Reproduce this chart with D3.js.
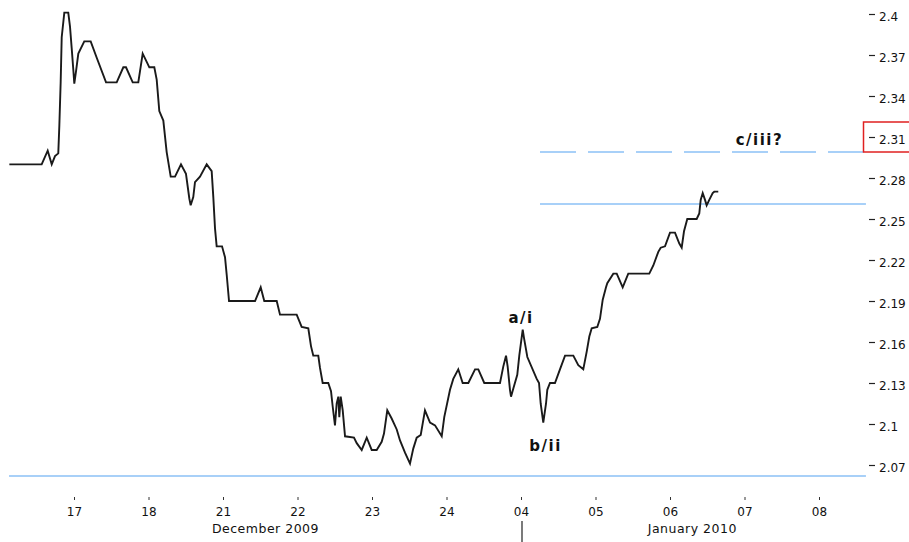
<!DOCTYPE html>
<html>
<head>
<meta charset="utf-8">
<script src="https://cdn.jsdelivr.net/npm/d3@7"></script>
<style>
  html, body { margin: 0; padding: 0; background: #fff; }
  svg { display: block; }
  .tick text { font-family: "DejaVu Sans", Verdana, sans-serif; }
</style>
</head>
<body>
<svg id="chart" width="909" height="542"></svg>
<script>
// ---- Data ----
// x positions in trading days from 17 Dec 2009 (tick index), y = price
const dayLabels = ["17", "18", "21", "22", "23", "24", "04", "05", "06", "07", "08"];
const dayIndex = [0, 1, 2, 3, 4, 5, 6, 7, 8, 9, 10];
const yTickValues = [2.4, 2.37, 2.34, 2.31, 2.28, 2.25, 2.22, 2.19, 2.16, 2.13, 2.1, 2.07];
const yTickLabels = ["2.4", "2.37", "2.34", "2.31", "2.28", "2.25", "2.22", "2.19", "2.16", "2.13", "2.1", "2.07"];
const monthLabels = ["December 2009", "January 2010"];
const monthCenters = [2.57, 8.3];

const times = [
  -0.868, -0.434, -0.353, -0.299, -0.255, -0.211, -0.197, -0.179, -0.165, -0.130,
  -0.077, -0.054, -0.031, -0.009, 0.004, 0.027, 0.058, 0.138, 0.224, 0.305,
  0.430, 0.573, 0.662, 0.698, 0.788, 0.863, 0.922, 0.976, 1.011, 1.078,
  1.110, 1.145, 1.199, 1.244, 1.298, 1.356, 1.436, 1.503, 1.548, 1.566,
  1.601, 1.624, 1.691, 1.781, 1.848, 1.870, 1.893, 1.915, 1.987, 2.027,
  2.050, 2.081, 2.430, 2.506, 2.554, 2.721, 2.765, 2.989, 3.056, 3.145,
  3.181, 3.212, 3.279, 3.302, 3.338, 3.413, 3.450, 3.472, 3.503, 3.526,
  3.548, 3.561, 3.580, 3.607, 3.638, 3.758, 3.795, 3.862, 3.929, 3.996,
  4.063, 4.130, 4.161, 4.205, 4.264, 4.332, 4.376, 4.443, 4.510, 4.554,
  4.600, 4.654, 4.711, 4.779, 4.846, 4.936, 4.970, 5.047, 5.091, 5.158,
  5.217, 5.293, 5.383, 5.427, 5.507, 5.718, 5.762, 5.799, 5.821, 5.852,
  5.866, 5.897, 5.950, 5.977, 6.023, 6.040, 6.085, 6.211, 6.242, 6.264,
  6.299, 6.336, 6.353, 6.389, 6.456, 6.523, 6.591, 6.702, 6.769, 6.836,
  6.882, 6.917, 6.949, 7.024, 7.060, 7.097, 7.141, 7.158, 7.239, 7.285,
  7.365, 7.440, 7.507, 7.722, 7.776, 7.843, 7.875, 7.933, 8.000, 8.067,
  8.125, 8.157, 8.188, 8.232, 8.358, 8.393, 8.412, 8.439, 8.470, 8.492,
  8.527, 8.573, 8.594, 8.648
];
const prices = [
  2.290, 2.290, 2.300, 2.290, 2.296, 2.298, 2.318, 2.350, 2.383, 2.401,
  2.401, 2.391, 2.375, 2.359, 2.349, 2.358, 2.371, 2.380, 2.380, 2.368,
  2.350, 2.350, 2.361, 2.361, 2.350, 2.350, 2.371, 2.365, 2.361, 2.361,
  2.352, 2.329, 2.322, 2.299, 2.281, 2.281, 2.290, 2.283, 2.265, 2.260,
  2.266, 2.277, 2.281, 2.290, 2.285, 2.266, 2.243, 2.230, 2.230, 2.222,
  2.209, 2.190, 2.190, 2.200, 2.190, 2.190, 2.180, 2.180, 2.171, 2.170,
  2.157, 2.150, 2.150, 2.141, 2.130, 2.130, 2.124, 2.113, 2.099, 2.115,
  2.120, 2.105, 2.120, 2.110, 2.091, 2.090, 2.086, 2.081, 2.090, 2.081,
  2.081, 2.087, 2.093, 2.110, 2.104, 2.096, 2.088, 2.079, 2.071, 2.082,
  2.090, 2.092, 2.110, 2.101, 2.099, 2.091, 2.105, 2.125, 2.133, 2.140,
  2.130, 2.130, 2.140, 2.140, 2.130, 2.130, 2.142, 2.150, 2.142, 2.125,
  2.120, 2.126, 2.136, 2.150, 2.169, 2.163, 2.149, 2.133, 2.130, 2.115,
  2.101, 2.115, 2.125, 2.130, 2.130, 2.140, 2.150, 2.150, 2.143, 2.140,
  2.153, 2.164, 2.170, 2.171, 2.177, 2.191, 2.200, 2.203, 2.210, 2.210,
  2.200, 2.210, 2.210, 2.210, 2.216, 2.226, 2.229, 2.230, 2.240, 2.240,
  2.232, 2.229, 2.241, 2.250, 2.250, 2.254, 2.264, 2.269, 2.264, 2.260,
  2.264, 2.269, 2.270, 2.270
];

// reference levels
const supportLevel = 2.062;
const targetLevel = 2.261;
const dashedLevel = 2.299;
const levelStarts = [-0.872, 6.255, 6.255];
const levelEnd = 10.63;

const annotations = [
  { text: "a/i", t: 6.0, p: 2.174 },
  { text: "b/ii", t: 6.33, p: 2.080 },
  { text: "c/iii?", t: 9.2, p: 2.3045 }
];

// ---- Scales ----
const svg = d3.select("#chart");
const x = d3.scaleLinear().domain([0, 10]).range([74, 819]);
const y = d3.scaleLinear().domain([2.07, 2.4]).range([465, 14]);

const blue = "#a8d0f8";

// reference lines
svg.append("line")
  .attr("x1", x(levelStarts[0])).attr("x2", x(levelEnd))
  .attr("y1", y(supportLevel)).attr("y2", y(supportLevel))
  .attr("stroke", blue).attr("stroke-width", 2);
svg.append("line")
  .attr("x1", x(levelStarts[1])).attr("x2", x(levelEnd))
  .attr("y1", y(targetLevel)).attr("y2", y(targetLevel))
  .attr("stroke", blue).attr("stroke-width", 2);
svg.append("line")
  .attr("x1", x(levelStarts[2])).attr("x2", x(levelEnd))
  .attr("y1", y(dashedLevel)).attr("y2", y(dashedLevel))
  .attr("stroke", blue).attr("stroke-width", 2)
  .attr("stroke-dasharray", "36,12");

// price line
const pts = times.map((t, i) => [t, prices[i]]);
svg.append("path")
  .datum(pts)
  .attr("fill", "none")
  .attr("stroke", "#1a1a1a")
  .attr("stroke-width", 1.9)
  .attr("stroke-linejoin", "miter")
  .attr("d", d3.line().x(d => x(d[0])).y(d => y(d[1])));

// right axis
const yAxis = d3.axisRight(y)
  .tickValues(yTickValues)
  .tickFormat((d, i) => yTickLabels[i])
  .tickSize(6)
  .tickPadding(4);
const gy = svg.append("g").attr("transform", "translate(869,0)").call(yAxis);
gy.select(".domain").remove();
gy.selectAll(".tick line").attr("stroke", "#222").attr("stroke-width", 1.2);
gy.selectAll(".tick text")
  .attr("font-size", 12).attr("fill", "#111").attr("dy", "0.5em");

// red highlight box around 2.31
svg.append("rect")
  .attr("x", 863.5).attr("y", y(2.31) - 15)
  .attr("width", 60).attr("height", 30)
  .attr("fill", "none").attr("stroke", "#e02020").attr("stroke-width", 1.5);

// bottom axis
const xAxis = d3.axisBottom(x)
  .tickValues(dayIndex)
  .tickFormat((d, i) => dayLabels[i])
  .tickSize(3)
  .tickPadding(7);
const gx = svg.append("g").attr("transform", "translate(0,497)").call(xAxis);
gx.select(".domain").remove();
gx.selectAll(".tick line").attr("stroke", "#333");
gx.selectAll(".tick text").attr("font-size", 12).attr("fill", "#111");

// month labels
svg.selectAll("text.month")
  .data(monthLabels)
  .enter().append("text")
  .attr("class", "month")
  .attr("x", (d, i) => x(monthCenters[i]))
  .attr("y", 533)
  .attr("text-anchor", "middle")
  .attr("font-family", "DejaVu Sans, Verdana, sans-serif")
  .attr("font-size", 12.5)
  .attr("letter-spacing", 0.5)
  .attr("fill", "#111")
  .text(d => d);

// year separator
svg.append("line")
  .attr("x1", x(6) + 1).attr("x2", x(6) + 1)
  .attr("y1", 521).attr("y2", 542)
  .attr("stroke", "#222").attr("stroke-width", 1.2);

// annotations
svg.selectAll("text.ann")
  .data(annotations)
  .enter().append("text")
  .attr("class", "ann")
  .attr("x", d => x(d.t))
  .attr("y", d => y(d.p))
  .attr("text-anchor", "middle")
  .attr("font-family", "DejaVu Sans, Verdana, sans-serif")
  .attr("font-weight", "bold")
  .attr("font-size", 15)
  .attr("letter-spacing", 1.5)
  .attr("fill", "#111")
  .text(d => d.text);
</script>
</body>
</html>
